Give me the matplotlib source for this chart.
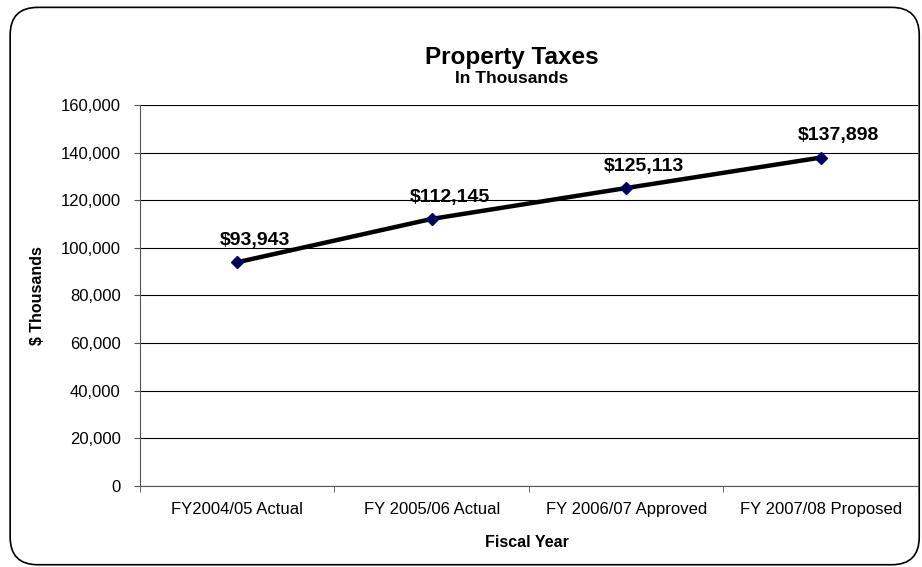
import matplotlib
matplotlib.use("Agg")
import matplotlib.pyplot as plt
import matplotlib.ticker as ticker
from matplotlib.patches import FancyBboxPatch

plt.rcParams['font.family'] = ['Liberation Sans', 'DejaVu Sans']

anos = ["FY2004/05 Actual", "FY 2005/06 Actual", "FY 2006/07 Approved", "FY 2007/08 Proposed"]
valores = [93943, 112145, 125113, 137898]
rotulos = ["$93,943", "$112,145", "$125,113", "$137,898"]

fig = plt.figure(figsize=(9.22, 5.67), dpi=100)

# moldura arredondada em volta do gráfico (atrás dos eixos)
moldura = FancyBboxPatch((0.011, 0.004), 0.986, 0.983,
                         boxstyle="round,pad=0,rounding_size=0.03",
                         transform=fig.transFigure, facecolor="white",
                         edgecolor="black", linewidth=1.2, mutation_aspect=922/567,
                         zorder=-10)
fig.patches.append(moldura)

ax = fig.add_axes([0.1518, 0.1429, 0.8438, 0.672])
ax.set_facecolor("none")

x = list(range(len(anos)))
ax.plot(x, valores, color="black", linewidth=3.2, zorder=3)
ax.plot(x, valores, linestyle="none", marker="D", markersize=6,
        markerfacecolor="#000040", markeredgecolor="#000090", markeredgewidth=1,
        zorder=4)

# rótulos um pouco à direita e acima de cada ponto
for xi, v, r in zip(x, valores, rotulos):
    ax.annotate(r, (xi, v), xytext=(13, 12.5), textcoords="offset points",
                ha="center", va="baseline", fontsize=14, fontweight="bold")

ax.set_xlim(-0.5, len(anos) - 0.5)
ax.set_ylim(0, 160000)
ax.yaxis.set_major_locator(ticker.MultipleLocator(20000))
ax.yaxis.set_major_formatter(ticker.FuncFormatter(lambda v, p: f"{int(v):,}"))
ax.grid(axis="y", color="black", linewidth=0.8)
ax.set_axisbelow(True)

ax.set_xticks(x)
ax.set_xticklabels(anos, fontsize=12)
ax.xaxis.set_minor_locator(ticker.FixedLocator([i - 0.5 for i in range(len(anos) + 1)]))
ax.tick_params(axis="x", which="major", length=0, pad=11.5)
ax.tick_params(axis="x", which="minor", length=4, color="#555555")
ax.tick_params(axis="y", length=4, color="#555555", labelsize=12, pad=10)

for lado in ["top", "right"]:
    ax.spines[lado].set_visible(False)
ax.spines["left"].set_color("#555555")
ax.spines["bottom"].set_color("#555555")

ax.set_xlabel("Fiscal Year", fontsize=11.5, fontweight="bold")
ax.set_ylabel("$ Thousands", fontsize=11.5, fontweight="bold")
ax.xaxis.set_label_coords(0.497, -0.1286)
ax.yaxis.set_label_coords(-0.122, 0.5)

fig.text(0.5553, 1 - 64 / 567, "Property Taxes", ha="center", va="baseline",
         fontsize=17.5, fontweight="bold")
fig.text(0.5553, 1 - 83 / 567, "In Thousands", ha="center", va="baseline",
         fontsize=12.5, fontweight="bold")

fig.savefig("out.png", dpi=100)
